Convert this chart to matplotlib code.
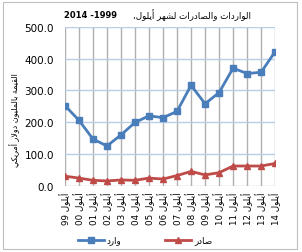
import re
import matplotlib
matplotlib.use("Agg")
import matplotlib.pyplot as plt
from matplotlib.patches import Rectangle

# September imports / exports, 1999-2014 (million USD)
years = ["99", "00", "01", "02", "03", "04", "05", "06",
         "07", "08", "09", "10", "11", "12", "13", "14"]
imports = [252, 206, 147, 125, 160, 199, 220, 214,
           234, 316, 258, 293, 370, 353, 357, 422]
exports = [30, 24, 17, 15, 18, 17, 24, 21,
           32, 45, 34, 41, 62, 62, 62, 70]

title_ar = "الواردات والصادرات لشهر أيلول،"
title_num = "1999- 2014"
ylabel_ar = "القيمة بالمليون دولار أمريكي"
month_ar = "أيلول"
imp_name = "وارد"
exp_name = "صادر"

# minimal Arabic shaping (isolated, final, initial, medial)
FORMS = {
    "ا": ("\uFE8D", "\uFE8E", None, None),
    "أ": ("\uFE83", "\uFE84", None, None),
    "و": ("\uFEED", "\uFEEE", None, None),
    "ر": ("\uFEAD", "\uFEAE", None, None),
    "د": ("\uFEA9", "\uFEAA", None, None),
    "ة": ("\uFE93", "\uFE94", None, None),
    "ل": ("\uFEDD", "\uFEDE", "\uFEDF", "\uFEE0"),
    "ت": ("\uFE95", "\uFE96", "\uFE97", "\uFE98"),
    "ص": ("\uFEB9", "\uFEBA", "\uFEBB", "\uFEBC"),
    "ش": ("\uFEB5", "\uFEB6", "\uFEB7", "\uFEB8"),
    "ه": ("\uFEE9", "\uFEEA", "\uFEEB", "\uFEEC"),
    "ي": ("\uFEF1", "\uFEF2", "\uFEF3", "\uFEF4"),
    "ق": ("\uFED5", "\uFED6", "\uFED7", "\uFED8"),
    "م": ("\uFEE1", "\uFEE2", "\uFEE3", "\uFEE4"),
    "ب": ("\uFE8F", "\uFE90", "\uFE91", "\uFE92"),
    "ن": ("\uFEE5", "\uFEE6", "\uFEE7", "\uFEE8"),
    "ك": ("\uFED9", "\uFEDA", "\uFEDB", "\uFEDC"),
}
LAM_ALEF = {"ا": ("\uFEFB", "\uFEFC"), "أ": ("\uFEF7", "\uFEF8")}


def dual(c):
    return c in FORMS and FORMS[c][2] is not None


def ar(s):
    out = []
    i = 0
    while i < len(s):
        c = s[i]
        if c not in FORMS:
            out.append(c)
            i += 1
            continue
        prev = s[i - 1] if i > 0 else ""
        pj = dual(prev)
        if c == "ل" and i + 1 < len(s) and s[i + 1] in LAM_ALEF:
            out.append(LAM_ALEF[s[i + 1]][1 if pj else 0])
            i += 2
            continue
        nxt = s[i + 1] if i + 1 < len(s) else ""
        nj = dual(c) and nxt in FORMS
        iso, fin, ini, med = FORMS[c]
        if pj and nj:
            out.append(med)
        elif pj:
            out.append(fin)
        elif nj:
            out.append(ini)
        else:
            out.append(iso)
        i += 1
    shaped = "".join(out)
    return "".join(reversed(re.findall(r"\d+|.", shaped)))


plt.rcParams["font.family"] = ["DejaVu Sans"]

fig = plt.figure(figsize=(3.02, 2.53), dpi=100)
fig.patches.append(Rectangle((0.01, 0.01), 0.975, 0.98, transform=fig.transFigure,
                             fill=False, edgecolor="#bfbfbf", linewidth=0.8))
ax = fig.add_axes([0.215, 0.262, 0.696, 0.628])

x = list(range(len(years)))
ax.plot(x, imports, color="#4a7ebb", linewidth=2, marker="s", markersize=5,
        label=ar(imp_name))
ax.plot(x, exports, color="#be4b48", linewidth=2, marker="^", markersize=5,
        label=ar(exp_name))

ax.set_xlim(0, len(years) - 1)
ax.set_ylim(0, 500)
ax.set_yticks([0, 100, 200, 300, 400, 500])
ax.set_yticklabels(["%.1f" % v for v in [0, 100, 200, 300, 400, 500]], fontsize=7.5)
ax.set_xticks(x)
ax.set_xticklabels([ar(month_ar + " " + y) for y in years], rotation=90, fontsize=6.3)
ax.tick_params(axis="y", length=0, pad=8)
ax.tick_params(axis="x", length=0, pad=4)
ax.grid(axis="y", color="#b9cde5", linewidth=1)
ax.grid(axis="x", color="#b0b0b0", linewidth=1)
ax.set_axisbelow(True)
for s in ax.spines.values():
    s.set_visible(False)

fig.text(0.05, 0.526, ar(ylabel_ar), rotation=90, ha="center", va="center", fontsize=5.8)
fig.text(0.387, 0.94, ar(title_num), ha="right", va="center", fontsize=6, fontweight="bold")
fig.text(0.44, 0.94, ar(title_ar), ha="left", va="center", fontsize=6.3)

fig.legend(loc="center", bbox_to_anchor=(0.48, 0.047), ncol=2, frameon=False,
           fontsize=6.3, handlelength=3, handletextpad=0.3, columnspacing=5,
           markerscale=0.9)

fig.savefig("out.png", dpi=100)
